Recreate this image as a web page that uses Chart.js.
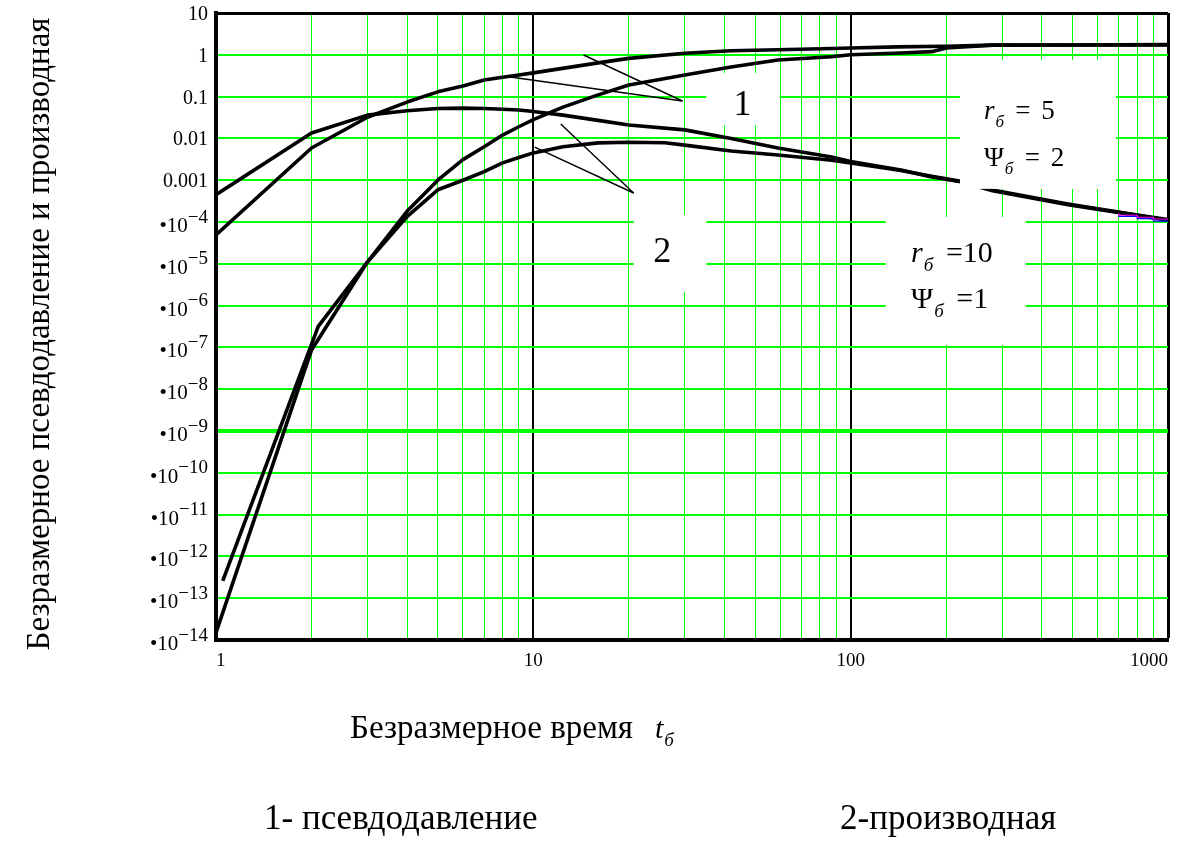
<!DOCTYPE html>
<html>
<head>
<meta charset="utf-8">
<script src="https://cdn.jsdelivr.net/npm/chart.js@4.4.1/dist/chart.umd.min.js"></script>
<style>
  html, body { margin: 0; padding: 0; background: #ffffff; }
  #wrap { position: relative; width: 1179px; height: 841px; }
  canvas { display: block; }
</style>
</head>
<body>
<div id="wrap"><canvas id="chart" width="1179" height="841"></canvas></div>
<script>
// ---------------- DATA ----------------
// Curve 1 (pseudopressure), r=5, Psi=2
const timeP1  = [1, 2, 3, 4, 5, 6, 7, 8, 9, 10, 16, 20, 30, 42, 59, 87, 100, 140, 200, 280, 500, 1000];
const pressP1 = [4.9e-5, 0.0059, 0.032, 0.074, 0.13, 0.18, 0.25, 0.29, 0.33, 0.37, 0.64, 0.82, 1.09, 1.25, 1.32, 1.42, 1.46, 1.55, 1.6, 1.7, 1.72, 1.75];

// Curve 1 (pseudopressure), r=10, Psi=1
const timeP2  = [1, 2, 3, 4, 5, 6, 7, 8, 9, 10, 12.4, 16, 20, 30, 42, 59, 87, 100, 144, 180, 200, 280, 500, 1000];
const pressP2 = [1.5e-14, 8.7e-8, 1.1e-5, 1.8e-4, 1.0e-3, 3.1e-3, 6.3e-3, 0.012, 0.019, 0.028, 0.056, 0.11, 0.19, 0.33, 0.51, 0.75, 0.90, 1.0, 1.1, 1.19, 1.45, 1.7, 1.72, 1.73];

// Curve 2 (derivative), r=5, Psi=2
const timeD1  = [1, 2, 3, 4, 5, 6, 7, 8, 9, 10, 12.4, 16, 20, 30, 42, 59, 87, 100, 144, 180, 220, 280, 484, 782, 1000];
const derivD1 = [4.5e-4, 0.0135, 0.036, 0.046, 0.052, 0.053, 0.052, 0.050, 0.048, 0.044, 0.036, 0.027, 0.021, 0.016, 0.010, 0.0059, 0.0036, 0.0028, 0.00175, 0.0012, 9.3e-4, 5.6e-4, 2.6e-4, 1.48e-4, 1.1e-4];

// Curve 2 (derivative), r=10, Psi=1
const timeD2  = [1.05, 2.1, 3, 4, 5, 6, 7, 8, 9, 10, 12.4, 16, 20, 26, 30, 42, 59, 87, 100, 144, 180, 220, 280, 484, 782, 1000];
const derivD2 = [2.6e-13, 3.2e-7, 1.1e-5, 1.35e-4, 5.9e-4, 1.0e-3, 1.6e-3, 2.6e-3, 3.5e-3, 4.5e-3, 6.3e-3, 7.8e-3, 8.1e-3, 7.9e-3, 6.9e-3, 5.0e-3, 4.0e-3, 3.0e-3, 2.6e-3, 1.7e-3, 1.25e-3, 9.5e-4, 5.8e-4, 2.7e-4, 1.5e-4, 1.15e-4];

// Faint extra traces visible at the right end of the derivative curves
const timeTraceA  = [700, 800, 900, 1000];
const valueTraceA = [1.62e-4, 1.45e-4, 1.3e-4, 1.18e-4];
const timeTraceB  = [700, 800, 900, 1000];
const valueTraceB = [1.52e-4, 1.36e-4, 1.2e-4, 1.05e-4];

// Leader lines from the curve labels (data coordinates)
const leader1aX = [8.46, 29.5],  leader1aY = [0.294, 0.0785];
const leader1bX = [14.4, 29.5],  leader1bY = [0.989, 0.0785];
const leader2aX = [12.2, 20.7],  leader2aY = [0.0221, 4.94e-4];
const leader2bX = [10.1, 20.7],  leader2bY = [6.2e-3, 4.94e-4];

// Ticks
const xTickValues = [1,2,3,4,5,6,7,8,9,10,20,30,40,50,60,70,80,90,100,200,300,400,500,600,700,800,900,1000];
const xTickLabels = ['1','','','','','','','','','10','','','','','','','','','100','','','','','','','','','1000'];
const yTickValues = [1e-14,1e-13,1e-12,1e-11,1e-10,1e-9,1e-8,1e-7,1e-6,1e-5,1e-4,1e-3,1e-2,1e-1,1,10];
const yTickLabels = ['•10^−14','•10^−13','•10^−12','•10^−11','•10^−10','•10^−9','•10^−8','•10^−7','•10^−6','•10^−5','•10^−4','0.001','0.01','0.1','1','10'];

// Texts
const xTitleText = 'Безразмерное время';
const yTitleText = 'Безразмерное псевдодавление и производная';
const legendTexts = ['1- псевдодавление', '2-производная'];
const curveLabels = ['1', '2'];
const paramTexts = [['r', 'б', '= 5'], ['Ψ', 'б', '= 2'], ['r', 'б', '=10'], ['Ψ', 'б', '=1']];

// ---------------- STYLE / LAYOUT ----------------
const FF = "'Liberation Serif', 'Times New Roman', serif";
const GREEN = '#00ff00';

const toPts = (xs, ys) => xs.map((v, i) => ({ x: v, y: ys[i] }));
const bold = (label, xs, ys) => ({
  label, data: toPts(xs, ys), borderColor: '#000', borderWidth: 3.6,
  pointRadius: 0, fill: false, tension: 0, borderJoinStyle: 'round', borderCapStyle: 'butt'
});
const thin = (label, xs, ys, color) => ({
  label, data: toPts(xs, ys), borderColor: color || '#000', borderWidth: color ? 1.2 : 1.4,
  pointRadius: 0, fill: false, tension: 0, stepped: color ? 'after' : false
});

// annotation layout (data coordinates)
const layoutBoxes = [
  { x0: 35.1, x1: 59.7, y0: 0.0209, y1: 0.367 },     // "1"
  { x0: 20.7, x1: 35.1, y0: 2.1e-6, y1: 1.47e-4 },   // "2"
  { x0: 221,  x1: 685,  y0: 6.2e-4, y1: 0.75 },      // r=5
  { x0: 129,  x1: 356,  y0: 1.15e-7, y1: 1.32e-4 }   // r=10
];
const labelAnchors = [ { x: 45.6, y: 0.0703 }, { x: 25.5, y: 2.14e-5 } ];
const paramAnchors = [
  { x: 263, y: 0.0479, size: 27 },
  { x: 263, y: 0.00359, size: 27 },
  { x: 155, y: 1.91e-5, size: 30 },
  { x: 155, y: 1.52e-6, size: 30 }
];

function drawRich(ctx, x, y, parts) {
  let cx = x;
  parts.forEach(p => {
    ctx.font = p.font;
    ctx.fillText(p.text, cx, y + (p.dy || 0));
    cx += ctx.measureText(p.text).width + (p.gap || 0);
  });
}

const overlayPlugin = {
  id: 'overlay',
  afterDatasetsDraw(chart) {
    const { ctx } = chart;
    const xs = chart.scales.x, ys = chart.scales.y;
    ctx.save();
    ctx.fillStyle = '#ffffff';
    layoutBoxes.forEach(b => {
      const px0 = xs.getPixelForValue(b.x0), px1 = xs.getPixelForValue(b.x1);
      const py0 = ys.getPixelForValue(b.y1), py1 = ys.getPixelForValue(b.y0);
      ctx.fillRect(px0, py0, px1 - px0, py1 - py0);
    });
    ctx.fillStyle = '#000';
    ctx.textBaseline = 'alphabetic';
    ctx.textAlign = 'center';
    ctx.font = `36px ${FF}`;
    curveLabels.forEach((t, i) => {
      const a = labelAnchors[i];
      ctx.fillText(t, xs.getPixelForValue(a.x), ys.getPixelForValue(a.y) + 12);
    });
    ctx.textAlign = 'left';
    paramTexts.forEach((p, i) => {
      const a = paramAnchors[i];
      const s = a.size;
      const main = p[0] === 'r' ? `italic ${s}px ${FF}` : `${s}px ${FF}`;
      drawRich(ctx, xs.getPixelForValue(a.x), ys.getPixelForValue(a.y) + s * 0.34, [
        { text: p[0], font: main, gap: 1 },
        { text: p[1], font: `italic ${Math.round(s * 0.62)}px ${FF}`, dy: s * 0.28, gap: s * 0.42 },
        { text: p[2].replace(' ', '\u2009\u2009'), font: `${s}px ${FF}` }
      ]);
    });
    ctx.restore();
  },
  afterDraw(chart) {
    const { ctx } = chart;
    const ys = chart.scales.y;
    ctx.save();
    ctx.fillStyle = '#000';
    ctx.textBaseline = 'alphabetic';
    // y tick labels (with real superscripts)
    const right = 208;
    yTickValues.forEach((v, i) => {
      const py = ys.getPixelForValue(v);
      const lab = yTickLabels[i];
      ctx.textAlign = 'left';
      if (lab.indexOf('^') >= 0) {
        const [base, exp] = lab.split('^');
        ctx.font = `19px ${FF}`;
        const we = ctx.measureText(exp).width;
        ctx.font = `21px ${FF}`;
        const wb = ctx.measureText(base).width;
        ctx.fillText(base, right - we - wb, py + 10);
        ctx.font = `19px ${FF}`;
        ctx.fillText(exp, right - we, py + 0.5);
      } else {
        ctx.font = `20px ${FF}`;
        ctx.textAlign = 'right';
        ctx.fillText(lab, right, py + 7);
      }
    });
    // y axis title (rotated)
    ctx.save();
    ctx.translate(40, 334);
    ctx.rotate(-Math.PI / 2);
    ctx.textAlign = 'center';
    ctx.textBaseline = 'middle';
    ctx.font = `33px ${FF}`;
    ctx.fillText(yTitleText, 0, 0);
    ctx.restore();
    // x axis title and legend
    ctx.textAlign = 'left';
    drawRich(ctx, 350, 738, [
      { text: xTitleText, font: `33px ${FF}`, gap: 22 },
      { text: 't', font: `italic 30px ${FF}`, gap: 1 },
      { text: 'б', font: `italic 19px ${FF}`, dy: 8 }
    ]);
    ctx.font = `35px ${FF}`;
    ctx.fillText(legendTexts[0], 264, 829);
    ctx.fillText(legendTexts[1], 840, 829);
    ctx.restore();
  }
};

new Chart(document.getElementById('chart'), {
  type: 'line',
  data: {
    datasets: [
      thin('trace a', timeTraceA, valueTraceA, '#ff00ff'),
      thin('trace b', timeTraceB, valueTraceB, '#0000ff'),
      bold('P r=5', timeP1, pressP1),
      bold('P r=10', timeP2, pressP2),
      bold('D r=5', timeD1, derivD1),
      bold('D r=10', timeD2, derivD2),
      thin('lead1a', leader1aX, leader1aY),
      thin('lead1b', leader1bX, leader1bY),
      thin('lead2a', leader2aX, leader2aY),
      thin('lead2b', leader2bX, leader2bY)
    ]
  },
  options: {
    responsive: false,
    animation: false,
    devicePixelRatio: 1,
    layout: { padding: { left: 22, right: 11, top: 13, bottom: 0 } },
    plugins: { legend: { display: false }, tooltip: { enabled: false } },
    scales: {
      x: {
        type: 'logarithmic', position: 'bottom', min: 1, max: 1000,
        afterBuildTicks: s => { s.ticks = xTickValues.map(v => ({ value: v })); },
        afterFit: s => { s.height = 201; },
        ticks: {
          autoSkip: false, maxRotation: 0, minRotation: 0, align: 'inner', padding: 10,
          color: '#000', font: { family: FF, size: 19 },
          callback: (v, i) => xTickLabels[i]
        },
        grid: {
          drawTicks: false,
          color: c => {
            const v = c.tick ? c.tick.value : 0;
            if (v === 10 || v === 100 || v === 1000 || v === 1) return '#000';
            return GREEN;
          },
          lineWidth: c => {
            const v = c.tick ? c.tick.value : 0;
            if (v === 1000) return 3;
            if (v === 10 || v === 100) return 2;
            return 1;
          }
        },
        border: { display: true, color: '#000', width: 4 }
      },
      y: {
        type: 'logarithmic', position: 'left', min: 1e-14, max: 10,
        afterBuildTicks: s => { s.ticks = yTickValues.map(v => ({ value: v })); },
        afterFit: s => { s.width = 194; },
        ticks: { display: false },
        title: { display: false },
        grid: {
          drawTicks: false,
          color: c => {
            const v = c.tick ? c.tick.value : 0;
            if (v >= 9 || v <= 1.1e-14) return '#000';
            return GREEN;
          },
          lineWidth: c => {
            const v = c.tick ? c.tick.value : 0;
            if (v >= 9) return 3;
            if (v <= 1.1e-14) return 4;
            if (Math.abs(Math.log10(v) + 9) < 0.01) return 4;
            return 2;
          }
        },
        border: { display: true, color: '#000', width: 4 }
      }
    }
  },
  plugins: [overlayPlugin]
});
</script>
</body>
</html>
